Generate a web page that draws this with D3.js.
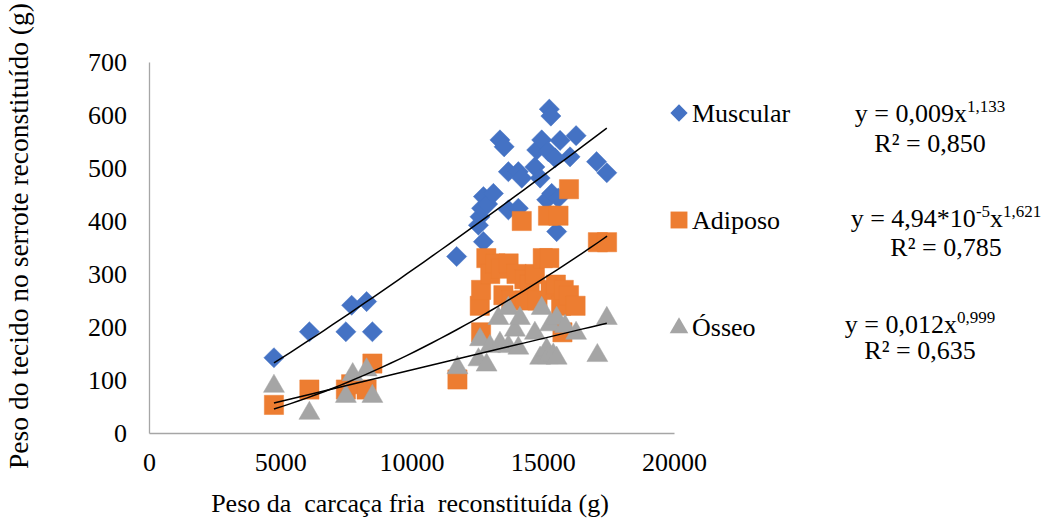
<!DOCTYPE html>
<html>
<head>
<meta charset="utf-8">
<script src="https://cdn.jsdelivr.net/npm/d3@7"></script>
<style>
  html, body { margin: 0; padding: 0; background: #fff; }
  svg { display: block; font-family: "Liberation Serif", "Times New Roman", serif; }
</style>
</head>
<body>
<svg id="chart" width="1049" height="519"></svg>
<script>
// ---------- data ----------
const xTicks = [0, 5000, 10000, 15000, 20000];
const yTicks = [0, 100, 200, 300, 400, 500, 600, 700];

const muscularX = [4760, 6110, 7500, 7720, 8290, 8510, 11720, 12550, 12610, 12670, 12740, 12740, 12900, 13120, 13370, 13530, 13690, 13690, 14070, 14070, 14200, 14700, 14770, 14900, 14960, 15150, 15210, 15250, 15310, 15340, 15470, 15530, 15590, 15660, 16040, 16270, 17050, 17440];
const muscularY = [142, 191, 191, 241, 248, 191, 333, 392, 408, 424, 446, 361, 432, 452, 553, 540, 493, 421, 493, 424, 481, 502, 534, 481, 553, 440, 531, 611, 598, 452, 519, 380, 443, 552, 521, 561, 512, 491];

const adiposoX = [4760, 6110, 7500, 7700, 8290, 8510, 11750, 12650, 12600, 12650, 12850, 13000, 13200, 13400, 13500, 13700, 13800, 14000, 14200, 14300, 14300, 14500, 14700, 14800, 15000, 15200, 15250, 15300, 15500, 15600, 15700, 15800, 15750, 16000, 16000, 16250, 17100, 17450];
const adiposoY = [53, 82, 82, 92, 82, 131, 101, 190, 240, 270, 330, 300, 320, 310, 260, 320, 250, 300, 400, 290, 250, 280, 300, 250, 330, 410, 330, 270, 280, 410, 240, 270, 190, 460, 260, 240, 360, 360];

const osseoX = [4760, 6110, 7500, 7760, 8290, 8510, 11750, 12550, 12610, 12860, 12990, 13310, 13370, 13690, 13690, 13940, 14070, 14130, 14700, 14900, 14960, 15150, 15200, 15280, 15400, 15530, 15530, 15850, 16270, 17080, 17440];
const osseoY = [91, 40, 72, 113, 122, 72, 126, 141, 179, 131, 166, 219, 172, 238, 166, 197, 163, 219, 191, 144, 238, 160, 145, 207, 150, 219, 144, 204, 191, 149, 219];

// fitted power curves y = a * x^b (from the equations printed on the chart)
const seriesNames = ["Muscular", "Adiposo", "Ósseo"];
const fitA = [0.009, 4.94e-5, 0.012];
const fitB = [1.133, 1.621, 0.999];
const colors = ["#4472C4", "#ED7D31", "#A5A5A5"];

// ---------- layout ----------
const svg = d3.select("#chart");
const x = d3.scaleLinear().domain([0, 20000]).range([149, 674]);
const y = d3.scaleLinear().domain([0, 700]).range([433, 62]);
const FS = 26;

// axes
const xAxis = svg.append("g").attr("transform", "translate(0,433)")
  .call(d3.axisBottom(x).tickValues(xTicks).tickSize(0).tickPadding(20).tickFormat(d3.format("d")));
const yAxis = svg.append("g").attr("transform", "translate(149,0)")
  .call(d3.axisLeft(y).tickValues(yTicks).tickSize(0).tickPadding(22).tickFormat(d3.format("d")));
[xAxis, yAxis].forEach(g => {
  g.select(".domain").attr("stroke", "#a6a6a6").attr("stroke-width", 1.3);
  g.selectAll("text").attr("font-family", "Liberation Serif").attr("font-size", FS).attr("fill", "#000");
});

// axis titles
svg.append("text").attr("x", 410).attr("y", 512).attr("text-anchor", "middle")
  .attr("font-size", FS).text("Peso da  carcaça fria  reconstituída (g)").style("white-space", "pre");
svg.append("text").attr("transform", "translate(28,236) rotate(-90)").attr("text-anchor", "middle")
  .attr("font-size", 27.5).text("Peso do tecido no serrote reconstituído (g)");

// markers
const diamond = d3.symbol().type(d3.symbolDiamond2).size(260);
const square = d3.symbol().type(d3.symbolSquare).size(370);
const triangle = d3.symbol().type(d3.symbolTriangle).size(190);

function pts(xs, ys) { return xs.map((v, i) => ({ x: v, y: ys[i] })); }
const series = [pts(muscularX, muscularY), pts(adiposoX, adiposoY), pts(osseoX, osseoY)];
const shapes = [diamond, square, triangle];

series.forEach((data, si) => {
  svg.append("g").selectAll("path").data(data).join("path")
    .attr("d", shapes[si])
    .attr("transform", d => `translate(${x(d.x)},${y(d.y) + (si === 2 ? 1.5 : 0)})`)
    .attr("fill", colors[si])
    .attr("stroke", colors[si]).attr("stroke-opacity", 0.6).attr("stroke-width", 0.8);
});

// trend lines
const line = d3.line().x(d => x(d[0])).y(d => y(d[1]));
series.forEach((data, si) => {
  const [lo, hi] = d3.extent(data, d => d.x);
  const curve = d3.range(0, 41).map(k => {
    const xv = lo + (hi - lo) * k / 40;
    return [xv, fitA[si] * Math.pow(xv, fitB[si])];
  });
  svg.append("path").datum(curve).attr("d", line)
    .attr("fill", "none").attr("stroke", "#000").attr("stroke-width", 1.5);
});

// legend
const legendY = [113, 220, 327];
const legendMarkers = [
  d3.symbol().type(d3.symbolDiamond2).size(190),
  d3.symbol().type(d3.symbolSquare).size(285),
  d3.symbol().type(d3.symbolTriangle).size(150)
];
seriesNames.forEach((name, i) => {
  svg.append("path").attr("d", legendMarkers[i])
    .attr("transform", `translate(679,${legendY[i] + (i === 2 ? 1 : 0)})`)
    .attr("fill", colors[i]);
  svg.append("text").attr("x", 692).attr("y", legendY[i] + 9)
    .attr("font-size", FS).text(name);
});

// equations
const eqCenters = [930, 946, 920];
const eqBase = [122, 227, 333];
const r2Base = [152, 256, 359];
const r2Text = ["R² = 0,850", "R² = 0,785", "R² = 0,635"];
const eqParts = [
  [["y = 0,009x", 0], ["1,133", 1]],
  [["y = 4,94*10", 0], ["-5", 1], ["x", 0], ["1,621", 1]],
  [["y = 0,012x", 0], ["0,999", 1]]
];
eqParts.forEach((parts, i) => {
  const t = svg.append("text").attr("x", eqCenters[i]).attr("y", eqBase[i])
    .attr("text-anchor", "middle").attr("font-size", FS);
  let raised = false;
  parts.forEach(([s, sup]) => {
    const ts = t.append("tspan").text(s);
    if (sup && !raised) { ts.attr("dy", -10).attr("font-size", 17); raised = true; }
    else if (sup) { ts.attr("font-size", 17); }
    else if (!sup && raised) { ts.attr("dy", 10); raised = false; }
  });
  svg.append("text").attr("x", eqCenters[i]).attr("y", r2Base[i])
    .attr("text-anchor", "middle").attr("font-size", FS).text(r2Text[i]);
});
</script>
</body>
</html>
